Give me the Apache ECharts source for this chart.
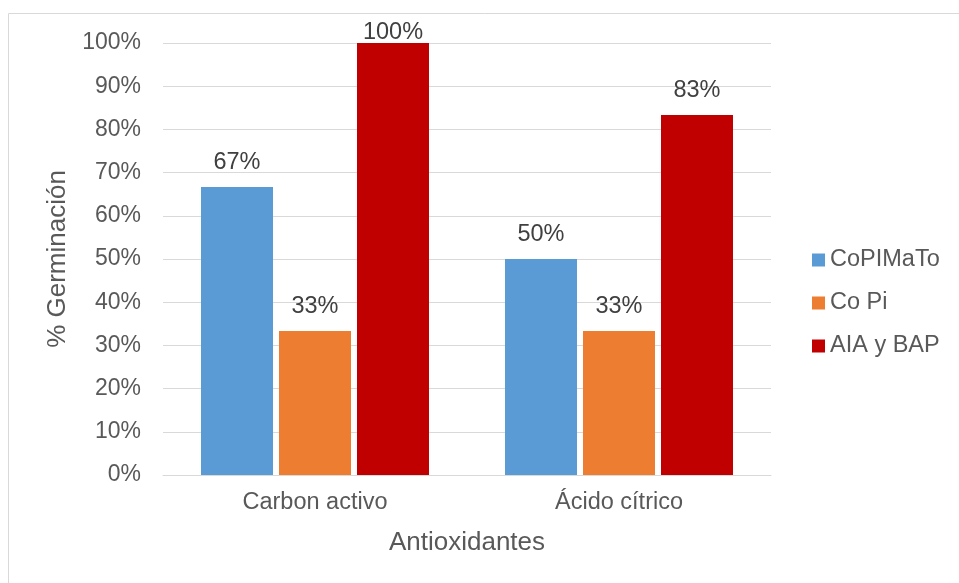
<!DOCTYPE html>
<html>
<head>
<meta charset="utf-8">
<script src="https://cdn.jsdelivr.net/npm/echarts@6/dist/echarts.min.js"></script>
<style>
  html, body { margin: 0; padding: 0; background: #fff; }
  #chart { width: 959px; height: 583px; }
</style>
</head>
<body>
<div id="chart"></div>
<script>
// Germination percentages per antioxidant treatment
const categories = ['Carbon activo', 'Ácido cítrico'];
const seriesNames = ['CoPIMaTo', 'Co Pi', 'AIA y BAP'];
const coPIMaTo = [66.67, 50];
const coPi = [33.33, 33.33];
const aiaBap = [100, 83.33];
const yTicks = [0, 10, 20, 30, 40, 50, 60, 70, 80, 90, 100];

const colors = ['#5B9BD5', '#ED7D31', '#C00000'];
const FONT = '"Liberation Sans", Arial, sans-serif';

function labelled(values) {
  // a bar touching the top of the scale keeps its label tight against it
  return values.map(v => v >= 100 ? { value: v, label: { distance: -2 } } : v);
}

const chart = echarts.init(document.getElementById('chart'));
chart.setOption({
  animation: false,
  graphic: [{
    type: 'rect',
    shape: { x: 8.5, y: 13.5, width: 1000, height: 1000 },
    style: { fill: 'none', stroke: '#D9D9D9', lineWidth: 1 },
    silent: true
  }],
  grid: { left: 163, right: 188, top: 43, bottom: 108 },
  legend: {
    orient: 'vertical',
    left: 812,
    top: 248,
    padding: 0,
    itemWidth: 13,
    itemHeight: 13,
    itemGap: 19,
    icon: 'rect',
    textStyle: { fontFamily: FONT, fontSize: 23.5, color: '#595959' },
    data: seriesNames
  },
  xAxis: {
    type: 'category',
    data: categories,
    name: 'Antioxidantes',
    nameLocation: 'middle',
    nameGap: 55,
    nameTextStyle: { fontFamily: FONT, fontSize: 26, color: '#595959' },
    axisLine: { lineStyle: { color: '#D9D9D9', width: 1 } },
    axisTick: { show: false },
    axisLabel: { fontFamily: FONT, fontSize: 23.5, color: '#595959', margin: 16 }
  },
  yAxis: {
    type: 'value',
    min: yTicks[0],
    max: yTicks[yTicks.length - 1],
    interval: yTicks[1] - yTicks[0],
    name: '% Germinación',
    nameLocation: 'middle',
    nameGap: 92,
    nameTextStyle: { fontFamily: FONT, fontSize: 26, color: '#595959' },
    axisLine: { show: false },
    axisTick: { show: false },
    splitLine: { lineStyle: { color: '#D9D9D9', width: 1 } },
    axisLabel: {
      fontFamily: FONT, fontSize: 23, color: '#595959', margin: 22,
      formatter: v => v + '%'
    }
  },
  series: [coPIMaTo, coPi, aiaBap].map((vals, i) => ({
    name: seriesNames[i],
    type: 'bar',
    data: labelled(vals),
    barWidth: 72,
    barGap: '8.33%',
    itemStyle: { color: colors[i] },
    label: {
      show: true,
      position: 'top',
      distance: 12,
      fontFamily: FONT,
      fontSize: 23.5,
      color: '#404040',
      formatter: p => Math.round(p.value) + '%'
    }
  }))
});
</script>
</body>
</html>
